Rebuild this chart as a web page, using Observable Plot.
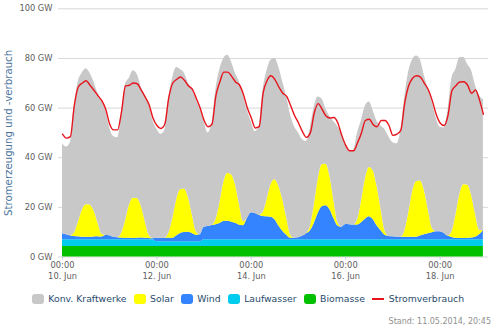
<!DOCTYPE html>
<html><head><meta charset="utf-8">
<script src="https://cdn.jsdelivr.net/npm/d3@7"></script>
<script src="https://cdn.jsdelivr.net/npm/@observablehq/plot@0.6"></script>
<style>
body{margin:0;background:#fff;font-family:"DejaVu Sans",sans-serif;}
#wrap{width:500px;height:328px;position:relative;overflow:hidden;background:#fff}
#legend{position:absolute;left:0;top:293px;width:496px;padding-right:4px;display:flex;justify-content:center;align-items:center;font-size:9.3px;color:#274b6d;height:12px;line-height:12px;white-space:nowrap}
.item{display:flex;align-items:center;margin:0 3.5px}
.sym{width:12.5px;height:10px;border-radius:3px;margin-right:4px}
.line{width:12px;height:1.5px;margin-right:5px}
#stand{position:absolute;right:9px;top:317px;font-size:8px;line-height:10px;color:#909090}
</style></head>
<body><div id="wrap"><div id="chart"></div><div id="legend"></div><div id="stand">Stand: 11.05.2014, 20:45</div></div>
<script>
// 2-hour samples from 10 Jun 2014 00:00 to 18 Jun 22:00 (108 points)
const seriesNames = ["Konv. Kraftwerke", "Solar", "Wind", "Laufwasser", "Biomasse"];
const seriesColors = ["#c8c8c8", "#ffff00", "#3584ff", "#00ccee", "#00c000"];
const lineName = "Stromverbrauch";
const lineColor = "#e8141c";
const yTicks = [0, 20, 40, 60, 80, 100];
const xTickDays = [10, 12, 14, 16, 18];
const xTickLabels = ["00:00\n10. Jun", "00:00\n12. Jun", "00:00\n14. Jun", "00:00\n16. Jun", "00:00\n18. Jun"];
const yLabel = "Stromerzeugung und -verbrauch";

// total generation (top of grey area), GW
const gesamt = [
  45.5, 44.3, 46, 61, 70.5, 74, 75.8, 74, 70.5, 66, 63, 59,
  52, 48.5, 48, 57, 69.5, 72, 75, 73.5, 68.5, 65, 61.5, 55,
  51.5, 49.5, 51, 64, 72, 76.3, 75.5, 74, 70, 67.5, 63.5, 59.5,
  54.5, 50, 54, 67.5, 75.5, 80, 81.3, 78.5, 73.8, 70.5, 65, 59,
  54.5, 50.5, 53, 67.5, 75, 79.3, 80, 76.5, 70.5, 64.5, 57, 52.5,
  50, 47.3, 46.5, 52, 60.5, 64.5, 63.6, 59.5, 56.5, 54.5, 52.5, 49.5,
  45, 42.5, 43, 50, 55, 60.8, 62.5, 58.8, 54.5, 52.8, 51.3, 48.3,
  46, 45.6, 51, 64.5, 74.5, 79.5, 81, 79.3, 73, 67.5, 62.5, 56,
  52.3, 52, 59, 72, 75.5, 80.3, 80.4, 77.6, 75, 69, 65, 63.5
];
const solar = [
  0, 0, 0, 1.3, 5.6, 10.7, 13.1, 13.0, 10.5, 5.6, 1.1, 0,
  0, 0, 0, 1.7, 6.9, 13.2, 16.2, 16.0, 12.9, 6.9, 1.3, 0,
  0, 0, 0, 1.8, 7.6, 14.4, 17.6, 17.5, 14.0, 7.6, 1.4, 0,
  0, 0, 0, 2.0, 8.2, 15.7, 19.2, 19.0, 15.3, 8.2, 1.6, 0,
  0, 0, 0, 1.6, 6.9, 13.1, 16.1, 15.9, 12.8, 6.9, 1.3, 0,
  0, 0, 0, 1.7, 7.3, 13.8, 17.0, 16.8, 13.5, 7.3, 1.4, 0,
  0, 0, 0, 2.0, 8.5, 16.2, 19.9, 19.7, 15.8, 8.5, 1.6, 0,
  0, 0, 0, 2.3, 9.6, 18.2, 22.3, 22.1, 17.8, 9.6, 1.8, 0,
  0, 0, 0, 2.2, 9.2, 17.6, 21.6, 21.3, 17.2, 9.2, 1.8, 0
];
const wind = [
  2.45, 2.1, 1.7, 1.4, 1.3, 1.1, 1.1, 1.1, 1.2, 1.3, 1.2, 1.8,
  1.7, 1.1, 0.9, 0.8, 0.6, 0.7, 0.6, 0.7, 0.8, 0.7, 0.6, 0.5,
  1.5, 1.5, 1.5, 1.6, 1.5, 2.4, 3.4, 3.8, 3.9, 3.4, 2.7, 2.9,
  5.1, 5.4, 5.8, 6.1, 6.6, 7.4, 7.5, 7.1, 6.7, 5.9, 5.7, 8.6,
  10.9, 10.6, 9.9, 9.4, 9.3, 9.1, 8.1, 5.6, 3.5, 1.9, 0.7, 0.7,
  0.9, 1.5, 2.5, 3.6, 6.6, 10.6, 13.3, 13.7, 12.1, 8.6, 5.6, 5.1,
  6.2, 6.1, 6.0, 6.0, 6.9, 8.3, 9.3, 8.1, 5.6, 3.7, 1.9, 1.4,
  1.3, 1.2, 1.1, 1.1, 1.1, 1.1, 1.1, 1.6, 2.1, 2.5, 2.9, 3.3,
  3.3, 2.7, 1.6, 1.0, 0.7, 0.6, 0.6, 0.7, 0.8, 1.1, 2.1, 3.7
];
const laufwasser = [
  2.7, 2.7, 2.7, 2.7, 2.7, 2.7, 2.7, 2.7, 2.7, 2.7, 2.7, 2.7,
  2.7, 2.7, 2.7, 2.7, 2.7, 2.7, 2.7, 2.7, 2.7, 2.7, 2.7, 2.7,
  1.9, 1.9, 1.9, 1.9, 1.9, 1.9, 1.9, 1.9, 1.9, 1.9, 1.9, 1.9,
  2.7, 2.7, 2.7, 2.7, 2.7, 2.7, 2.7, 2.7, 2.7, 2.7, 2.7, 2.7,
  2.7, 2.7, 2.7, 2.7, 2.7, 2.7, 2.7, 2.7, 2.7, 2.7, 2.7, 2.7,
  2.7, 2.7, 2.7, 2.7, 2.7, 2.7, 2.7, 2.7, 2.7, 2.7, 2.7, 2.7,
  2.7, 2.7, 2.7, 2.7, 2.7, 2.7, 2.7, 2.7, 2.7, 2.7, 2.7, 2.7,
  2.7, 2.7, 2.7, 2.7, 2.7, 2.7, 2.7, 2.7, 2.7, 2.7, 2.7, 2.7,
  2.7, 2.7, 2.7, 2.7, 2.7, 2.7, 2.7, 2.7, 2.7, 2.7, 2.7, 2.7
];
const biomasse = [
  4.2, 4.2, 4.2, 4.2, 4.2, 4.2, 4.2, 4.2, 4.2, 4.2, 4.2, 4.2,
  4.2, 4.2, 4.2, 4.2, 4.2, 4.2, 4.2, 4.2, 4.2, 4.2, 4.2, 4.2,
  4.2, 4.2, 4.2, 4.2, 4.2, 4.2, 4.2, 4.2, 4.2, 4.2, 4.2, 4.2,
  4.2, 4.2, 4.2, 4.2, 4.2, 4.2, 4.2, 4.2, 4.2, 4.2, 4.2, 4.2,
  4.2, 4.2, 4.2, 4.2, 4.2, 4.2, 4.2, 4.2, 4.2, 4.2, 4.2, 4.2,
  4.2, 4.2, 4.2, 4.2, 4.2, 4.2, 4.2, 4.2, 4.2, 4.2, 4.2, 4.2,
  4.2, 4.2, 4.2, 4.2, 4.2, 4.2, 4.2, 4.2, 4.2, 4.2, 4.2, 4.2,
  4.2, 4.2, 4.2, 4.2, 4.2, 4.2, 4.2, 4.2, 4.2, 4.2, 4.2, 4.2,
  4.2, 4.2, 4.2, 4.2, 4.2, 4.2, 4.2, 4.2, 4.2, 4.2, 4.2, 4.2
];
const verbrauch = [
  49.5, 47.9, 48.5, 61, 68.5, 70, 71, 69.2, 67.2, 65, 63, 59.5,
  53.5, 51.2, 51.2, 58.5, 68.9, 69.2, 70.1, 69.8, 67.3, 64.5, 61.4, 56,
  53, 51.8, 53.5, 64, 70, 71.5, 72.5, 71.2, 69, 67.6, 64, 60,
  55, 52.5, 53.5, 65, 70.5, 74.5, 74.5, 72.8, 70.5, 69.3, 65.5, 60,
  56, 52, 52.5, 66, 71, 73, 71.5, 68.5, 66, 64.7, 61, 57,
  54, 50.5, 48.2, 50, 58, 61.8, 59.5, 56.8, 56, 56.2, 54, 49,
  45, 42.8, 42.8, 46, 50, 55, 55.5, 53.3, 52.5, 55, 55, 53,
  49, 49.5, 51, 62, 69, 72, 73, 72.5, 70, 67.4, 63, 57.5,
  54, 53, 57, 67, 69, 70.5, 70.6, 69.2, 66, 67.3, 63.3, 57.5
];

const H = 3600e3;
const t0 = Date.UTC(2014, 5, 10);
const times = verbrauch.map((_, i) => new Date(t0 + i * 2 * H));

const rows = [];
times.forEach((t, i) => {
  const konv = Math.max(0, gesamt[i] - biomasse[i] - laufwasser[i] - wind[i] - solar[i]);
  rows.push({t, s: "Biomasse", v: biomasse[i]});
  rows.push({t, s: "Laufwasser", v: laufwasser[i]});
  rows.push({t, s: "Wind", v: wind[i]});
  rows.push({t, s: "Solar", v: solar[i]});
  rows.push({t, s: "Konv. Kraftwerke", v: konv});
});
const stackOrder = ["Biomasse", "Laufwasser", "Wind", "Solar", "Konv. Kraftwerke"];
const xTicks = xTickDays.map(d => new Date(Date.UTC(2014, 5, d)));
const xLabelMap = new Map(xTicks.map((d, i) => [+d, xTickLabels[i]]));

const chart = Plot.plot({
  width: 500, height: 285,
  marginTop: 8.3, marginBottom: 28.5, marginLeft: 58, marginRight: 12,
  x: {type: "utc", domain: [new Date(t0 - 2.03 * H), new Date(t0 + 216.6 * H)]},
  y: {domain: [0, 100]},
  color: {domain: seriesNames, range: seriesColors},
  style: {fontFamily: "DejaVu Sans", background: "white"},
  marks: [
    Plot.ruleY(yTicks, {stroke: "#d8d8d8", strokeWidth: 1}),
    Plot.areaY(rows, {x: "t", y: "v", fill: "s", z: "s", order: stackOrder, curve: "monotone-x"}),
    Plot.lineY(verbrauch, {x: (d, i) => times[i], y: d => d, stroke: lineColor, strokeWidth: 1.4, curve: "monotone-x"}),
    Plot.axisX(xTicks, {tickFormat: d => xLabelMap.get(+d), tickSize: 3, tickPadding: 0, stroke: "#c0d0e0", fill: "#606060", fontSize: 8.3, lineHeight: 1.33, label: null}),
    Plot.axisY(yTicks, {tickFormat: d => d + " GW", tickSize: 0, tickPadding: 6, fill: "#606060", fontSize: 8.3, label: null}),
    Plot.text([yLabel], {frameAnchor: "left", textAnchor: "middle", dx: -50, rotate: -90, fill: "#4d759e", fontSize: 10.2, text: d => d})
  ]
});
document.getElementById("chart").appendChild(chart);

const legend = document.getElementById("legend");
const items = [...seriesNames.map((n, i) => ({n, c: seriesColors[i], line: false})), {n: lineName, c: lineColor, line: true}];
items.forEach(it => {
  const el = document.createElement("div");
  el.className = "item";
  const s = document.createElement("span");
  s.className = it.line ? "line" : "sym";
  s.style.background = it.c;
  const tx = document.createElement("span");
  tx.textContent = it.n;
  el.appendChild(s); el.appendChild(tx);
  legend.appendChild(el);
});
</script>
</body></html>
